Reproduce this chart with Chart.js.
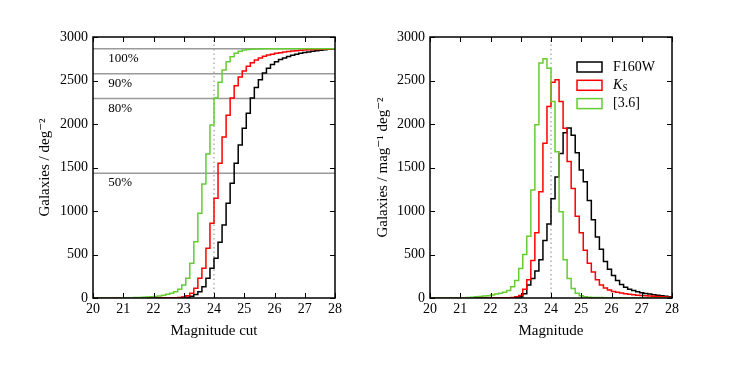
<!DOCTYPE html>
<html>
<head>
<meta charset="utf-8">
<script src="https://cdn.jsdelivr.net/npm/chart.js@4"></script>
<style>
  html, body { margin: 0; padding: 0; background: #fff; }
  #wrap { position: relative; width: 747px; height: 374px; }
  canvas { position: absolute; top: 0; }
  #left { left: 0; }
  #right { left: 373px; }
</style>
</head>
<body>
<div id="wrap">
  <canvas id="left" width="373" height="374"></canvas>
  <canvas id="right" width="374" height="374"></canvas>
</div>
<script>
// bins: 60 bins from 20 to 28 mag
const binStart = 20;
const binWidth = 8 / 60;

const seriesNames = ["F160W", "K_S", "[3.6]"];
const seriesColors = ["#000000", "#ff0000", "#66cc33"];

// number counts per mag (right panel)
const histF160W = [
    0, 0, 0, 0, 0, 0, 0, 0, 0, 0,
    0, 0, 0, 0, 0, 0, 0, 1, 2, 2,
    3, 8, 15, 50, 150, 225, 310, 440, 660, 850,
    1140, 1390, 1660, 1900, 1955, 1870, 1670, 1470, 1335, 1120,
    900, 700, 560, 420, 330, 260, 200, 155, 125, 100,
    85, 72, 60, 52, 45, 38, 32, 27, 20, 15
];
const histKs = [
    0, 0, 0, 0, 0, 0, 0, 0, 0, 0,
    0, 0, 1, 1, 1, 2, 2, 3, 3, 4,
    5, 15, 30, 100, 210, 430, 750, 1220, 1780, 2200,
    2480, 2510, 2260, 1950, 1570, 1260, 940, 750, 550, 400,
    300, 210, 150, 115, 92, 75, 65, 58, 50, 43,
    38, 33, 28, 25, 22, 20, 18, 15, 12, 10
];
const hist36 = [
    0, 0, 0, 0, 0, 0, 0, 0, 3, 6,
    10, 14, 18, 22, 27, 35, 45, 55, 65, 85,
    130, 200, 340, 500, 710, 1240, 1990, 2700, 2750, 2640,
    2260, 1680, 990, 440, 225, 110, 55, 25, 15, 10,
    7, 6, 5, 4, 3, 3, 2, 2, 2, 1,
    1, 1, 1, 1, 0, 0, 0, 0, 0, 0
];

// cumulative counts brighter than the cut (left panel)
const cumF160W = [
    0, 0, 0, 0, 0, 0, 0, 0, 0, 0,
    0, 0, 0, 0, 0, 0, 0, 0, 1, 2,
    3, 4, 5, 10, 20, 40, 72, 130, 226, 341,
    456, 640, 839, 1088, 1320, 1548, 1759, 1950, 2123, 2300,
    2420, 2510, 2585, 2640, 2685, 2715, 2740, 2760, 2777, 2790,
    2802, 2812, 2821, 2829, 2836, 2842, 2848, 2853, 2858, 2862
];
const cumKs = [
    0, 0, 0, 0, 0, 0, 0, 0, 0, 0,
    0, 0, 0, 0, 0, 1, 1, 2, 2, 3,
    3, 6, 12, 25, 54, 111, 226, 341, 571, 858,
    1146, 1548, 1850, 2100, 2300, 2440, 2540, 2610, 2665, 2705,
    2735, 2760, 2778, 2792, 2803, 2812, 2820, 2827, 2833, 2838,
    2843, 2847, 2850, 2853, 2855, 2857, 2859, 2861, 2862, 2864
];
const cum36 = [
    0, 0, 0, 0, 0, 0, 0, 1, 2, 3,
    5, 7, 9, 12, 15, 18, 24, 32, 42, 55,
    72, 100, 149, 226, 399, 647, 973, 1310, 1655, 1989,
    2300, 2480, 2621, 2716, 2774, 2812, 2835, 2850, 2856, 2860,
    2862, 2863, 2864, 2865, 2865, 2865, 2865, 2865, 2865, 2865,
    2865, 2865, 2865, 2865, 2865, 2865, 2865, 2865, 2865, 2865
];

const totalDensity = 2865;
const levelFractions = [1.0, 0.9, 0.8, 0.5];
const levelLabels = ["100%", "90%", "80%", "50%"];
const magCut = 24;

const FONT = "'Liberation Serif', 'DejaVu Serif', serif";
const grey = "#9a9a9a";

function stepPoints(values) {
    const pts = values.map((v, i) => ({ x: binStart + i * binWidth, y: v }));
    pts.push({ x: binStart + values.length * binWidth, y: values[values.length - 1] });
    return pts;
}

function stepSet(values, i) {
    return {
        label: seriesNames[i],
        data: stepPoints(values),
        borderColor: seriesColors[i],
        borderWidth: 1.5,
        pointRadius: 0,
        stepped: "before",
        fill: false,
        order: 2 - i
    };
}

function cutLine() {
    return {
        label: "cut",
        data: [{ x: magCut, y: 0 }, { x: magCut, y: 3000 }],
        borderColor: grey,
        borderWidth: 1.2,
        borderDash: [1.5, 3],
        pointRadius: 0,
        order: 10
    };
}

// frame and inward ticks on all four sides
const frameTicks = {
    id: "frameTicks",
    afterDatasetsDraw(chart) {
        const { ctx, chartArea: a, scales: { x, y } } = chart;
        ctx.save();
        ctx.strokeStyle = "#000";
        ctx.lineWidth = 1;
        ctx.beginPath();
        x.ticks.forEach(t => {
            const px = Math.round(x.getPixelForValue(t.value)) + 0.5;
            ctx.moveTo(px, a.bottom); ctx.lineTo(px, a.bottom - 5);
            ctx.moveTo(px, a.top); ctx.lineTo(px, a.top + 5);
        });
        y.ticks.forEach(t => {
            const py = Math.round(y.getPixelForValue(t.value)) + 0.5;
            ctx.moveTo(a.left, py); ctx.lineTo(a.left + 5, py);
            ctx.moveTo(a.right, py); ctx.lineTo(a.right - 5, py);
        });
        ctx.stroke();
        ctx.lineWidth = 1.5;
        ctx.strokeRect(a.left, a.top, a.right - a.left, a.bottom - a.top);
        ctx.restore();
    }
};

const levelText = {
    id: "levelText",
    afterDatasetsDraw(chart) {
        const { ctx, scales: { x, y } } = chart;
        ctx.save();
        ctx.fillStyle = "#000";
        ctx.font = "13px " + FONT;
        ctx.textBaseline = "top";
        levelFractions.forEach((f, i) => {
            ctx.fillText(levelLabels[i], x.getPixelForValue(20.5), y.getPixelForValue(f * totalDensity) + 3);
        });
        ctx.restore();
    }
};

const boxLegend = {
    id: "boxLegend",
    afterDatasetsDraw(chart) {
        const { ctx, chartArea: a } = chart;
        ctx.save();
        const x0 = a.left + 147, y0 = a.top + 25;
        seriesNames.forEach((name, i) => {
            const top = y0 + i * 18.3;
            ctx.strokeStyle = seriesColors[i];
            ctx.lineWidth = 1.5;
            ctx.strokeRect(x0, top, 25, 10);
            ctx.fillStyle = "#000";
            ctx.textBaseline = "middle";
            const tx = x0 + 36, ty = top + 5;
            if (name.includes("_")) {
                const [main, sub] = name.split("_");
                ctx.font = "italic 14px " + FONT;
                ctx.fillText(main, tx, ty);
                const w = ctx.measureText(main).width;
                ctx.font = "italic 10px " + FONT;
                ctx.fillText(sub, tx + w, ty + 3);
            } else {
                ctx.font = "14px " + FONT;
                ctx.fillText(name, tx, ty);
            }
        });
        ctx.restore();
    }
};

function axes(yTitle, yWidth, yTitlePad) {
    return {
        x: {
            type: "linear", min: 20, max: 28,
            grid: { display: false, drawTicks: false },
            border: { display: false },
            ticks: { stepSize: 1, padding: 3, color: "#000", font: { family: FONT, size: 14 }, callback: v => String(v) },
            title: { display: true, color: "#000", font: { family: FONT, size: 15 }, padding: { top: 0, bottom: 34 } },
            afterFit: s => { s.height = 76; }
        },
        y: {
            min: 0, max: 3000,
            grid: { display: false, drawTicks: false },
            border: { display: false },
            ticks: { stepSize: 500, padding: 5, color: "#000", font: { family: FONT, size: 14 }, callback: v => String(v) },
            title: { display: true, text: yTitle, color: "#000", font: { family: FONT, size: 15 }, padding: { top: yTitlePad, bottom: 0 } },
            afterFit: s => { s.width = yWidth; }
        }
    };
}

const commonOpts = {
    responsive: false,
    animation: false,
    devicePixelRatio: 1,
    plugins: { legend: { display: false }, tooltip: { enabled: false } }
};

// left: cumulative counts
const leftScales = axes("Galaxies / deg\u207B\u00B2", 93, 36);
leftScales.x.title.text = "Magnitude cut";
const levelSets = levelFractions.map(f => ({
    label: "level",
    data: [{ x: 20, y: f * totalDensity }, { x: 28, y: f * totalDensity }],
    borderColor: grey,
    borderWidth: 1.5,
    pointRadius: 0,
    order: 11
}));

new Chart(document.getElementById("left"), {
    type: "line",
    data: {
        datasets: [
            ...levelSets,
            cutLine(),
            stepSet(cumF160W, 0),
            stepSet(cumKs, 1),
            stepSet(cum36, 2)
        ]
    },
    options: {
        ...commonOpts,
        layout: { padding: { left: 0, right: 38, top: 37, bottom: 0 } },
        scales: leftScales
    },
    plugins: [frameTicks, levelText]
});

// right: differential counts
const rightScales = axes("Galaxies / mag\u207B\u00B9 deg\u207B\u00B2", 57, 1);
rightScales.x.title.text = "Magnitude";

new Chart(document.getElementById("right"), {
    type: "line",
    data: {
        datasets: [
            cutLine(),
            stepSet(histF160W, 0),
            stepSet(histKs, 1),
            stepSet(hist36, 2)
        ]
    },
    options: {
        ...commonOpts,
        layout: { padding: { left: 0, right: 75, top: 37, bottom: 0 } },
        scales: rightScales
    },
    plugins: [frameTicks, boxLegend]
});
</script>
</body>
</html>
